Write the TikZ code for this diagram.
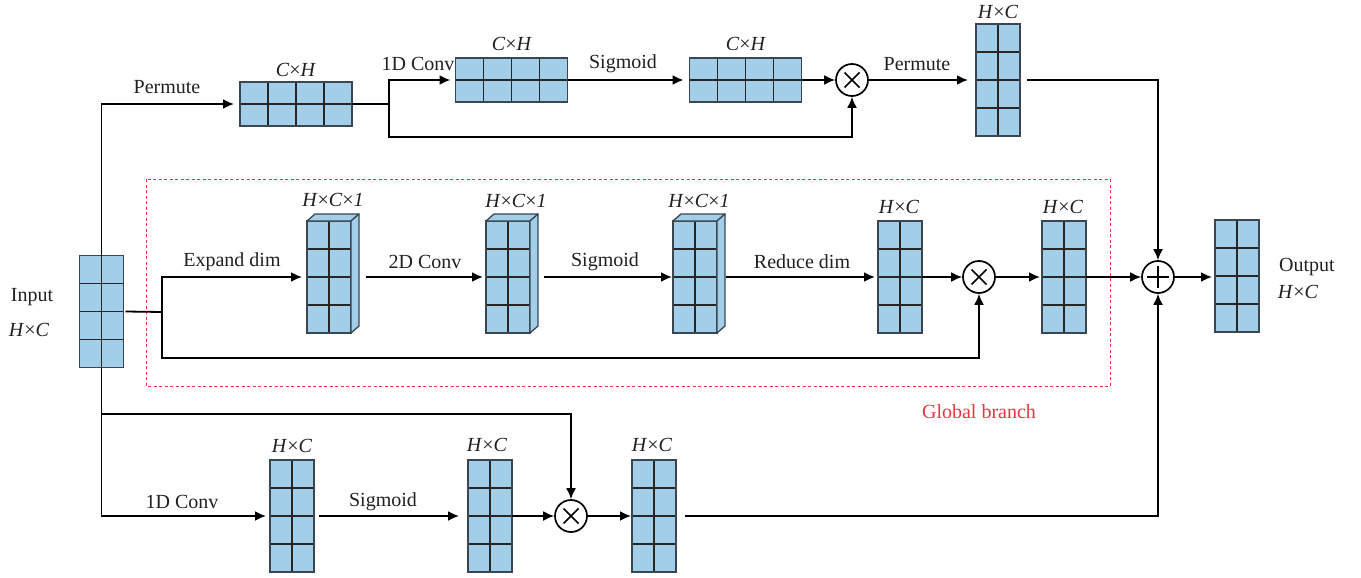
\documentclass[tikz,border=0pt]{standalone}
\usepackage{fontspec}
\setmainfont{Liberation Serif}
\usetikzlibrary{arrows.meta,calc}
\definecolor{cellblue}{HTML}{A3CEE9}
\definecolor{cellline}{HTML}{3A4652}
\definecolor{txt}{HTML}{231F20}
\definecolor{gred}{HTML}{E8353F}
\tikzset{
 blk/.style={draw=cellline, fill=cellblue, line width=1.3pt, inner sep=0pt, outer sep=0pt},
 gridl/.style={draw=black!85, line width=1.1pt},
 conn/.style={line width=1.8pt, draw=black},
 arr/.style={conn, -{Latex[length=11pt,width=10pt]}},
 lbl/.style={text=txt, font=\fontsize{20}{24}\selectfont, inner sep=0pt},
 opc/.style={circle, draw=black, line width=1.7pt, minimum size=32pt, inner sep=0pt, fill=white},
}
\newcommand\vblk[3]{%
 \node[blk, minimum width=44pt, minimum height=112pt] (#1) at (#2,#3) {};
 \draw[gridl] (#1.north) -- (#1.south);
 \foreach \q in {0.25,0.5,0.75}{\draw[gridl] ($(#1.north west)!\q!(#1.south west)$) -- ($(#1.north east)!\q!(#1.south east)$);}
 \draw[draw=cellline, line width=1.3pt] (#1.north west) rectangle (#1.south east);
}
\newcommand\hblk[3]{%
 \node[blk, minimum width=112pt, minimum height=44pt] (#1) at (#2,#3) {};
 \draw[gridl] (#1.west) -- (#1.east);
 \foreach \q in {0.25,0.5,0.75}{\draw[gridl] ($(#1.north west)!\q!(#1.north east)$) -- ($(#1.south west)!\q!(#1.south east)$);}
 \draw[draw=cellline, line width=1.3pt] (#1.north west) rectangle (#1.south east);
}
\newcommand\cblk[3]{%
 \vblk{#1}{#2}{#3}
 \filldraw[draw=cellline, fill=cellblue, line width=1.3pt, line join=round] (#1.north west) -- ++(8,-7) -- ++(44,0) -- (#1.north east) -- cycle;
 \filldraw[draw=cellline, fill=cellblue, line width=1.3pt, line join=round] (#1.north east) -- ++(8,-7) -- ++(0,112) -- (#1.south east) -- cycle;
}
\newcommand\mulop[3]{%
 \node[opc] (#1) at (#2,#3) {};
 \draw[line width=1.5pt] ($(#1)+(-7.5,-7.5)$) -- ($(#1)+(7.5,7.5)$) ($(#1)+(-7.5,7.5)$) -- ($(#1)+(7.5,-7.5)$);
}
\newcommand\addop[3]{%
 \node[opc] (#1) at (#2,#3) {};
 \draw[line width=1.5pt] ($(#1)+(-11,0)$) -- ($(#1)+(11,0)$) ($(#1)+(0,-11)$) -- ($(#1)+(0,11)$);
}
\begin{document}
\begin{tikzpicture}[x=1pt,y=-1pt]
\useasboundingbox (0,0) rectangle (1361,578);
% global branch frame
\draw[gred, line width=1pt, dash pattern=on 3pt off 2.5pt] (146,179) rectangle (1110,386);
\node[lbl, text=gred] (gb) at (979,412) {Global branch};
% blocks
\vblk{in}{101.5}{311.5}
\hblk{hb1}{296}{104}
\hblk{hb2}{511.5}{80}
\hblk{hb3}{745.5}{80}
\vblk{tv}{998}{80}
\mulop{mt}{852}{80}
\cblk{cb1}{329}{277}
\cblk{cb2}{508}{277}
\cblk{cb3}{695}{277}
\vblk{mv1}{900}{277}
\mulop{mm}{979}{277}
\vblk{mv2}{1064}{277}
\addop{plus}{1158}{277}
\vblk{out}{1237}{276}
\vblk{bv1}{292}{516}
\vblk{bv2}{490}{516}
\mulop{mb}{571}{516}
\vblk{bv3}{654}{516}
% coordinates
\coordinate (j1) at (162,312);
\coordinate (j1b) at (162,358);
\coordinate (j2) at (389,104);
\coordinate (j2b) at (389,137);
\coordinate (k) at (101,414);
% top branch
\draw[arr, shorten >=6pt] (in.north) |- (hb1.west);
\draw[conn] (hb1.east) -- (j2);
\draw[arr, shorten >=5pt] (j2) |- (hb2.west);
\draw[arr] (j2) -- (j2b) -| (mt.south);
\draw[arr, shorten >=6pt] (hb2.east) -- (hb3.west);
\draw[arr] (hb3.east) -- (mt.west);
\draw[arr, shorten >=8pt] (mt.east) -- (tv.west);
\draw[arr] ([xshift=7pt]tv.east) -| (plus.north);
% middle branch
\draw[conn] ([xshift=2pt]in.east) -- (j1);
\draw[arr, shorten >=5pt] (j1) |- (cb1.west);
\draw[arr] (j1) -- (j1b) -| (mm.south);
\draw[arr, shorten >=3pt] ([xshift=15pt]cb1.east) -- (cb2.west);
\draw[arr, shorten >=1pt] ([xshift=14pt]cb2.east) -- (cb3.west);
\draw[arr, shorten >=3pt] ([xshift=9pt]cb3.east) -- (mv1.west);
\draw[arr] (mv1.east) -- (mm.west);
\draw[arr, shorten >=2pt] (mm.east) -- (mv2.west);
\draw[arr] (mv2.east) -- (plus.west);
\draw[arr, shorten >=3pt] (plus.east) -- (plus.east -| out.west);
% bottom branch
\draw[arr, shorten >=4pt] (in.south) |- (bv1.west);
\draw[arr] (k) -| (mb.north);
\draw[arr, shorten >=9pt] ([xshift=5pt]bv1.east) -- (bv2.west);
\draw[arr] (bv2.east) -- (mb.west);
\draw[arr, shorten >=1pt] (mb.east) -- (bv3.west);
\draw[arr] ([xshift=9pt]bv3.east) -| (plus.south);
% labels
\node[lbl] (l1) at (167,87) {Permute};
\node[lbl] (l2) at (296,70) {\textit{C}×\textit{H}};
\node[lbl] (l3) at (418,64) {1D Conv};
\node[lbl] (l4) at (512,44) {\textit{C}×\textit{H}};
\node[lbl] (l5) at (623,64) {Sigmoid};
\node[lbl] (l6) at (746,44) {\textit{C}×\textit{H}};
\node[lbl] (l7) at (917,64) {Permute};
\node[lbl] (l8) at (998,12) {\textit{H}×\textit{C}};
\node[lbl] (l9) at (32,297) {Input};
\node[lbl] (l10) at (29,330) {\textit{H}×\textit{C}};
\node[lbl] (l11) at (232,262) {Expand dim};
\node[lbl] (l12) at (425,262) {2D Conv};
\node[lbl] (l13) at (605,262) {Sigmoid};
\node[lbl] (l14) at (802,262) {Reduce dim};
\node[lbl] (l15) at (333,200) {\textit{H}×\textit{C}×\textit{1}};
\node[lbl] (l16) at (516,201) {\textit{H}×\textit{C}×\textit{1}};
\node[lbl] (l17) at (699,201) {\textit{H}×\textit{C}×\textit{1}};
\node[lbl] (l18) at (899,207) {\textit{H}×\textit{C}};
\node[lbl] (l19) at (1063,207) {\textit{H}×\textit{C}};
\node[lbl] (l20) at (1307,267) {Output};
\node[lbl] (l21) at (1298,292) {\textit{H}×\textit{C}};
\node[lbl] (l22) at (182,502) {1D Conv};
\node[lbl] (l23) at (383,502) {Sigmoid};
\node[lbl] (l24) at (292,446) {\textit{H}×\textit{C}};
\node[lbl] (l25) at (487,445) {\textit{H}×\textit{C}};
\node[lbl] (l26) at (652,445) {\textit{H}×\textit{C}};
\end{tikzpicture}
\end{document}
